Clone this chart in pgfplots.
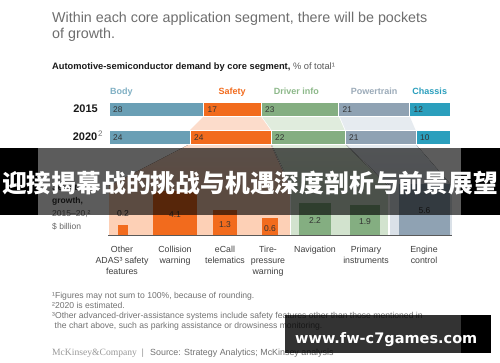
\documentclass[border=0pt]{standalone}
\usepackage{pgfplots}
\pgfplotsset{compat=1.18}
\usepackage{fontspec}
\setmainfont{Liberation Sans}
\newfontfamily\cjk{Noto Sans CJK SC}
\newfontfamily\wm{DejaVu Sans}
\newfontfamily\mkfont{Liberation Serif}
\definecolor{body}{HTML}{6A9FB5}
\definecolor{bodylbl}{HTML}{80B0C4}
\definecolor{safety}{HTML}{F26B1D}
\definecolor{driver}{HTML}{84AE81}
\definecolor{driverlbl}{HTML}{8DB98A}
\definecolor{power}{HTML}{8FA2B3}
\definecolor{powerlbl}{HTML}{9CABB9}
\definecolor{chassis}{HTML}{2B9FBD}
\definecolor{safetybg}{HTML}{FDD0B6}
\definecolor{driverbg}{HTML}{D2E3CE}
\definecolor{powerbg}{HTML}{DAE1E8}
\definecolor{safetyfun}{HTML}{FCDCCB}
\definecolor{driverfun}{HTML}{E0ECDD}
\definecolor{powerfun}{HTML}{E6EBF0}
\definecolor{titlegray}{HTML}{6E6E6E}
\definecolor{txt}{HTML}{333333}
\definecolor{notegray}{HTML}{727272}
\begin{document}
\begin{tikzpicture}
\path[use as bounding box] (0,0) rectangle (500pt,-362pt);
\fill[white] (0,0) rectangle (500pt,-362pt);
\begin{scope}[x=1pt,y=-1pt]
% funnels between 2015 and 2020
\fill[safetyfun] (204,116) -- (260.5,116) -- (270.5,130) -- (190,130) -- cycle;
\fill[driverfun] (261.5,116) -- (338.5,116) -- (344.5,130) -- (271.5,130) -- cycle;
\fill[powerfun] (339.5,116) -- (409.5,116) -- (415.5,130) -- (345.5,130) -- cycle;
% funnels to lower panel + backgrounds
\fill[top color=safetyfun, bottom color=safetybg] (190,144) -- (270.5,144) -- (289.5,186) -- (109,186) -- cycle;
\fill[safetybg] (109,186) rectangle (289.5,235);
\fill[top color=driverfun, bottom color=driverbg] (271.5,144) -- (344.5,144) -- (388,186) -- (291,186) -- cycle;
\fill[driverbg] (291,186) rectangle (388,235);
\fill[top color=powerfun, bottom color=powerbg] (345.5,144) -- (415.5,144) -- (452,186) -- (390,186) -- cycle;
\fill[powerbg] (390,186) rectangle (452,235);
% title
\node[anchor=base west, inner sep=0, text=titlegray, font=\fontsize{14.3}{16}\selectfont] at (52,22) {Within each core application segment, there will be pockets};
\node[anchor=base west, inner sep=0, text=titlegray, font=\fontsize{14.3}{16}\selectfont] at (52,38) {of growth.};
\node[anchor=base west, inner sep=0, font=\fontsize{9.3}{11}\selectfont] at (52,69.5) {\textcolor{black!90}{\bfseries Automotive-semiconductor demand by core segment,} \textcolor{black!65}{\% of total¹}};
% year labels
\node[anchor=base east, inner sep=0, font=\fontsize{11}{12}\selectfont\bfseries, text=black!90] at (98,112.5) {2015};
\node[anchor=base east, inner sep=0, font=\fontsize{11}{12}\selectfont\bfseries, text=black!90] at (97.5,140.5) {2020};
\node[anchor=base west, inner sep=0, font=\fontsize{8}{10}\selectfont, text=black!55] at (98,136.5) {2};
% left label
\node[anchor=base west, inner sep=0, font=\fontsize{8.5}{10}\selectfont\bfseries, text=txt] at (52,190) {Selected};
\node[anchor=base west, inner sep=0, font=\fontsize{8.5}{10}\selectfont\bfseries, text=txt] at (52,203) {growth,};
\node[anchor=base west, inner sep=0, font=\fontsize{8.5}{10}\selectfont, text=black!60] at (52,216) {2015–20,²};
\node[anchor=base west, inner sep=0, font=\fontsize{8.5}{10}\selectfont, text=black!60] at (52,229) {\$ billion};
\node[font=\fontsize{8.5}{10}\selectfont, text=txt, inner sep=0] at (123,214) {0.2};
% category labels
\tikzset{cat/.style={anchor=north, inner sep=0, align=center, text=black!75, font=\fontsize{8.8}{11}\selectfont}}
\node[cat] at (122,246) {Other\\ADAS³ safety\\features};
\node[cat] at (175,246) {Collision\\warning};
\node[cat] at (225,246) {eCall\\telematics};
\node[cat] at (268,246) {Tire-\\pressure\\warning};
\node[cat] at (315,246) {Navigation};
\node[cat] at (366,246) {Primary\\instruments};
\node[cat] at (424,246) {Engine\\control};
% footnotes
\tikzset{fn/.style={anchor=base west, inner sep=0, text=notegray, font=\fontsize{8.6}{10}\selectfont}}
\node[fn] at (52,298.5) {¹Figures may not sum to 100\%, because of rounding.};
\node[fn] at (52,308.5) {²2020 is estimated.};
\node[fn] at (52,318.5) {³Other advanced-driver-assistance systems include safety features other than those mentioned in};
\node[fn] at (54.5,328.5) {the chart above, such as parking assistance or drowsiness monitoring.};
\node[anchor=base west, inner sep=0, text=black!40, font=\mkfont\fontsize{9.6}{10}\selectfont] at (52,355) {McKinsey\&Company};
\node[anchor=base west, inner sep=0, text=black!40, font=\fontsize{9}{10}\selectfont] at (141.5,355) {|};
\node[anchor=base west, inner sep=0, text=notegray, font=\fontsize{8.9}{10}\selectfont] at (150,355) {Source: Strategy Analytics; McKinsey analysis};
\end{scope}

% top stacked bars
\begin{axis}[at={(109pt,0pt)}, anchor=north west, scale only axis, width=341pt, height=362pt,
  xmin=0, xmax=101, ymin=0, ymax=362, y dir=reverse, hide axis, clip=false,
  xbar stacked, bar width=14]
\addplot[fill=body, draw=white, line width=0.8pt] coordinates {(28,109) (24,137)};
\addplot[fill=safety, draw=white, line width=0.8pt] coordinates {(17,109) (24,137)};
\addplot[fill=driver, draw=white, line width=0.8pt] coordinates {(23,109) (22,137)};
\addplot[fill=power, draw=white, line width=0.8pt] coordinates {(21,109) (21,137)};
\addplot[fill=chassis, draw=white, line width=0.8pt] coordinates {(12,109) (10,137)};
\tikzset{seg/.style={inner sep=0, font=\fontsize{9}{10}\selectfont\bfseries}}
\node[seg, anchor=base west, text=bodylbl] at (axis cs:0.3,94.5) {Body};
\node[seg, anchor=base, text=safety] at (axis cs:36.5,94.5) {Safety};
\node[seg, anchor=base, text=driverlbl] at (axis cs:55.5,94.5) {Driver info};
\node[seg, anchor=base, text=powerlbl] at (axis cs:78.5,94.5) {Powertrain};
\node[seg, anchor=base, text=chassis] at (axis cs:95,94.5) {Chassis};
\end{axis}

% lower square bars (area proportional to value)
\begin{axis}[at={(0pt,-235pt)}, anchor=south west, scale only axis, width=500pt, height=217pt,
  xmin=0, xmax=500, ymin=0, ymax=100, hide axis, clip=false,
  y coord trafo/.code={\pgfmathparse{sqrt(#1)}},
  y coord inv trafo/.code={\pgfmathparse{(#1)^2}}]
\addplot[ybar, bar shift=0pt, bar width=9.7, fill=safety, draw=none] coordinates {(123,0.2)};
\addplot[ybar, bar shift=0pt, bar width=43.9, fill=safety, draw=none] coordinates {(175,4.1)};
\addplot[ybar, bar shift=0pt, bar width=24.7, fill=safety, draw=none] coordinates {(225,1.3)};
\addplot[ybar, bar shift=0pt, bar width=16.8, fill=safety, draw=none] coordinates {(270,0.6)};
\addplot[ybar, bar shift=0pt, bar width=32.2, fill=driver, draw=none] coordinates {(315,2.2)};
\addplot[ybar, bar shift=0pt, bar width=29.9, fill=driver, draw=none] coordinates {(365,1.9)};
\addplot[ybar, bar shift=0pt, bar width=51.4, fill=power, draw=none] coordinates {(424.5,5.6)};
\draw[black!65, line width=0.7pt] (axis cs:108,0) -- (axis cs:452,0);
\tikzset{val/.style={inner sep=0, yshift=-1.5pt, text=txt, font=\fontsize{8.5}{10}\selectfont}}
\node[val] at (axis cs:175,1.025) {4.1};
\node[val] at (axis cs:225,0.325) {1.3};
\node[val] at (axis cs:270,0.15) {0.6};
\node[val] at (axis cs:315,0.55) {2.2};
\node[val] at (axis cs:365,0.475) {1.9};
\node[val] at (axis cs:424.5,1.4) {5.6};
\end{axis}

% overlays: segment numbers, banner and watermark
\begin{scope}[x=1pt,y=-1pt]
\tikzset{num/.style={anchor=west, inner sep=0, text=txt, font=\fontsize{8.3}{10}\selectfont}}
\node[num] at (113,109.5) {28};
\node[num] at (207.5,109.5) {17};
\node[num] at (265,109.5) {23};
\node[num] at (342.5,109.5) {21};
\node[num] at (413.5,109.5) {12};
\node[num] at (113,137.5) {24};
\node[num] at (194,137.5) {24};
\node[num] at (275,137.5) {22};
\node[num] at (349,137.5) {21};
\node[num] at (420,137.5) {10};
\fill[black] (0,148) rectangle (38.3,215);
\fill[black, opacity=0.64] (38.3,148) rectangle (461,215);
\fill[black] (461,148) rectangle (500,215);
\node[text=white, inner sep=0, font=\cjk\bfseries\fontsize{24.8}{26}\selectfont] at (250,183) {迎接揭幕战的挑战与机遇深度剖析与前景展望};
\fill[black, opacity=0.8] (285,315) rectangle (461,353);
\fill[black] (461,315) rectangle (491,353);
\node[anchor=base west, text=white, inner sep=0, font=\wm\bfseries\fontsize{14.5}{16}\selectfont] at (295,343) {www.fw-c7games.com};
\end{scope}
\end{tikzpicture}
\end{document}
